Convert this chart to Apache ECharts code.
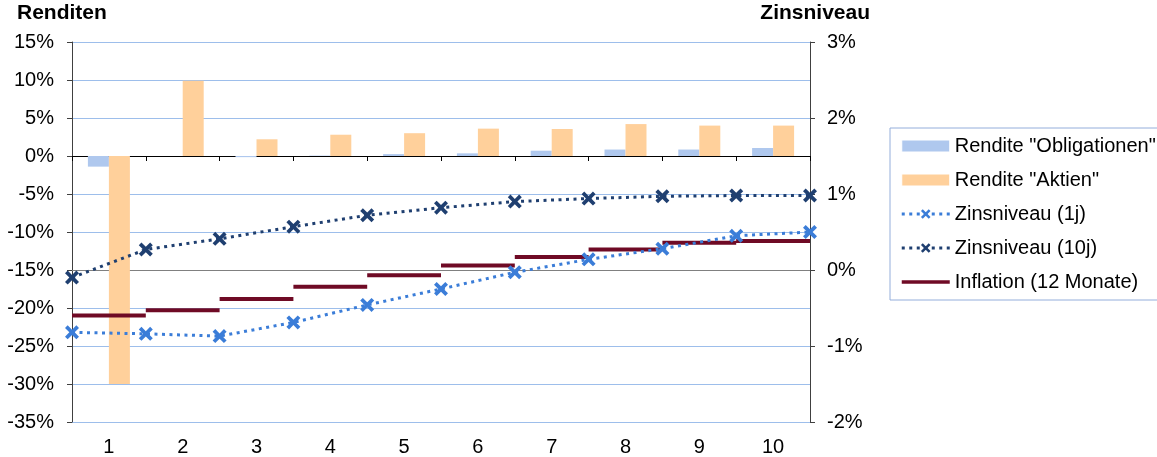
<!DOCTYPE html>
<html>
<head>
<meta charset="utf-8">
<script src="https://cdn.jsdelivr.net/npm/echarts@6/dist/echarts.min.js"></script>
<style>
html,body{margin:0;padding:0;background:#fff;}
#c{width:1157px;height:457px;}
</style>
</head>
<body>
<div id="c"></div>
<script>
// ---- data ----
const categories = ['1','2','3','4','5','6','7','8','9','10'];
const boundaryLabels = ['0','1','2','3','4','5','6','7','8','9','10'];
const renditeObligationen = [-1.4, 0.0, -0.15, 0.05, 0.25, 0.35, 0.7, 0.85, 0.85, 1.05];
const renditeAktien = [-30.0, 9.9, 2.2, 2.8, 3.0, 3.6, 3.55, 4.2, 4.0, 4.0];
const zins1j = [-0.82, -0.84, -0.87, -0.69, -0.46, -0.25, -0.03, 0.14, 0.28, 0.45, 0.50];
const zins10j = [-0.10, 0.27, 0.41, 0.57, 0.72, 0.82, 0.90, 0.94, 0.97, 0.98, 0.98];
const inflation = [-0.60, -0.53, -0.38, -0.22, -0.07, 0.06, 0.17, 0.27, 0.36, 0.38];
const leftTicks = {min: -35, max: 15, interval: 5};
const rightTicks = {min: -2, max: 3, interval: 1};
const seriesNames = ['Rendite "Obligationen"', 'Rendite "Aktien"', 'Zinsniveau (1j)', 'Zinsniveau (10j)', 'Inflation (12 Monate)'];

// inflation as horizontal segments spanning each category band
const inflationSegments = [];
inflation.forEach(function (v, i) {
  if (i > 0) inflationSegments.push([i, '-']);
  inflationSegments.push([i, v]);
  inflationSegments.push([i + 1, v]);
});

const FONT = '"Liberation Sans", Arial, sans-serif';
const xPath = 'path://M0,1.9 L1.9,0 L5,3.1 L8.1,0 L10,1.9 L6.9,5 L10,8.1 L8.1,10 L5,6.9 L1.9,10 L0,8.1 L3.1,5 Z';

const chart = echarts.init(document.getElementById('c'), null, {renderer: 'canvas'});
chart.setOption({
  animation: false,
  backgroundColor: '#fff',
  textStyle: {fontFamily: FONT},
  title: [
    {text: 'Renditen', left: 17, top: 3, padding: 0,
     textStyle: {fontSize: 21, fontWeight: 'bold', color: '#000', fontFamily: FONT}},
    {text: 'Zinsniveau', right: 287, top: 3, padding: 0,
     textStyle: {fontSize: 21, fontWeight: 'bold', color: '#000', fontFamily: FONT}}
  ],
  legend: {
    orient: 'vertical',
    left: 890, top: 128,
    padding: [7, 6, 7, 10],
    itemWidth: 48, itemHeight: 12, itemGap: 12,
    borderColor: '#94AEDB', borderWidth: 1,
    textStyle: {fontSize: 20, lineHeight: 22, color: '#000', fontFamily: FONT},
    data: [
      {name: seriesNames[0], icon: 'rect', itemStyle: {borderWidth: 1, borderColor: '#fff'}},
      {name: seriesNames[1], icon: 'rect', itemStyle: {borderWidth: 1, borderColor: '#fff'}},
      {name: seriesNames[2], lineStyle: {width: 3}},
      {name: seriesNames[3], lineStyle: {width: 3}},
      {name: seriesNames[4], itemStyle: {opacity: 0}, lineStyle: {width: 3.5}}
    ]
  },
  grid: {left: 72, right: 347, top: 42, bottom: 35, containLabel: false, outerBoundsMode: 'none'},
  xAxis: [
    {type: 'category', data: categories, position: 'bottom',
     axisLine: {show: false, onZero: false}, axisTick: {show: false},
     axisLabel: {fontSize: 20, color: '#000', margin: 15, fontFamily: FONT},
     splitLine: {show: false}},
    {type: 'category', data: categories, position: 'bottom',
     axisLine: {show: true, onZero: true, onZeroAxisIndex: 0, lineStyle: {color: '#000', width: 1}},
     axisTick: {show: true, length: 5, lineStyle: {color: '#000'}},
     axisLabel: {show: false}, splitLine: {show: false}},
    {type: 'category', data: boundaryLabels, boundaryGap: false, position: 'top',
     axisLine: {show: true, onZero: true, onZeroAxisIndex: 1, lineStyle: {color: '#808080', width: 1}},
     axisTick: {show: false}, axisLabel: {show: false}, splitLine: {show: false}}
  ],
  yAxis: [
    {type: 'value', position: 'left', min: leftTicks.min, max: leftTicks.max, interval: leftTicks.interval,
     axisLine: {show: true, lineStyle: {color: '#404040'}},
     axisTick: {show: true, length: 5, lineStyle: {color: '#404040'}},
     axisLabel: {formatter: '{value}%', fontSize: 20, color: '#000', margin: 18, fontFamily: FONT},
     splitLine: {show: true, lineStyle: {color: '#9DBEEB', width: 1}}},
    {type: 'value', position: 'right', min: rightTicks.min, max: rightTicks.max, interval: rightTicks.interval,
     axisLine: {show: true, lineStyle: {color: '#404040'}},
     axisTick: {show: true, length: 5, lineStyle: {color: '#404040'}},
     axisLabel: {formatter: '{value}%', fontSize: 20, color: '#000', margin: 17, fontFamily: FONT},
     splitLine: {show: false}}
  ],
  series: [
    {name: seriesNames[0], type: 'bar', xAxisIndex: 0, yAxisIndex: 0, data: renditeObligationen,
     barWidth: 21, barGap: '0%', itemStyle: {color: '#AFC8EE'}, z: 2},
    {name: seriesNames[1], type: 'bar', xAxisIndex: 0, yAxisIndex: 0, data: renditeAktien,
     barWidth: 21, barGap: '0%', itemStyle: {color: '#FFD09B'}, z: 2},
    {name: seriesNames[4], type: 'line', xAxisIndex: 2, yAxisIndex: 1, data: inflationSegments,
     symbol: 'none', connectNulls: false, color: '#6F0A25',
     lineStyle: {color: '#6F0A25', width: 4}, z: 3},
    {name: seriesNames[2], type: 'line', xAxisIndex: 2, yAxisIndex: 1, data: zins1j,
     symbol: xPath, symbolSize: 14, color: '#3B7DD8', itemStyle: {color: '#3B7DD8'},
     lineStyle: {color: '#3B7DD8', width: 3, type: [3, 4.5]}, z: 4},
    {name: seriesNames[3], type: 'line', xAxisIndex: 2, yAxisIndex: 1, data: zins10j,
     symbol: xPath, symbolSize: 14, color: '#1F3F70', itemStyle: {color: '#1F3F70'},
     lineStyle: {color: '#1F3F70', width: 3, type: [3, 4.5]}, z: 4}
  ]
});
</script>
</body>
</html>
